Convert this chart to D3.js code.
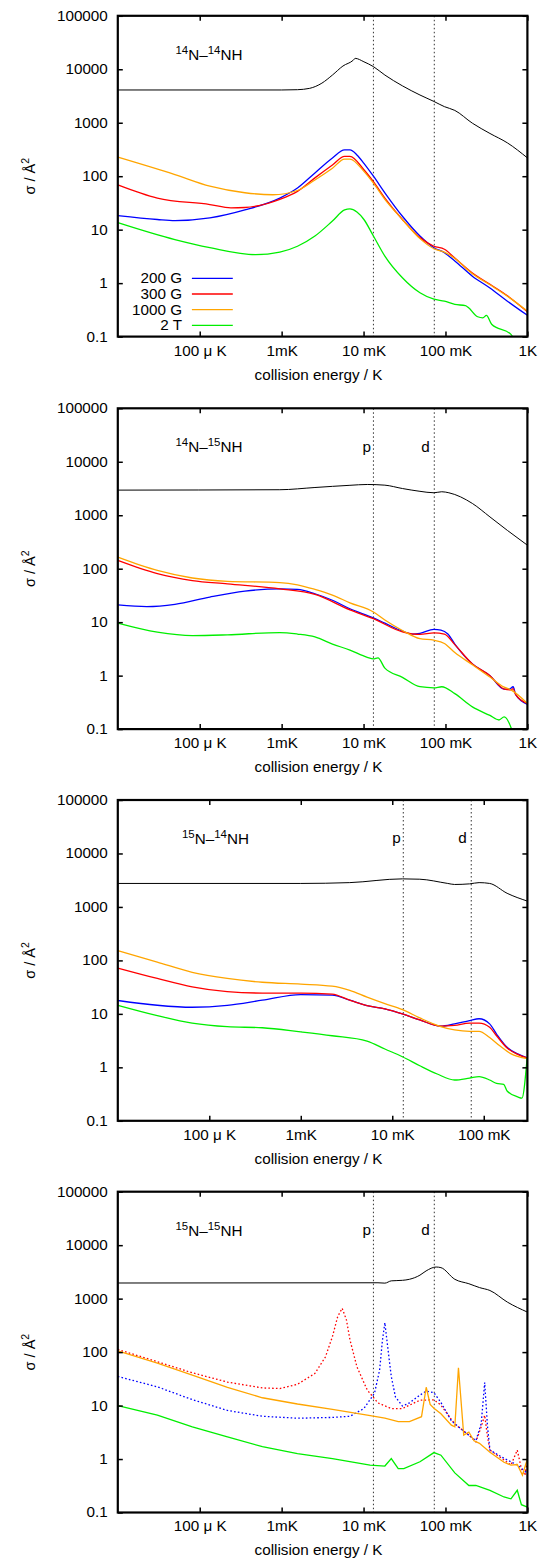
<!DOCTYPE html>
<html><head><meta charset="utf-8">
<script src="https://d3js.org/d3.v7.min.js"></script>
<style>body{margin:0;background:#fff;} svg{display:block;} text{font-family:"Liberation Sans",Arial,Helvetica,sans-serif;}</style>
</head><body>
<script>
// ---------- data: [collision energy (K), cross section (Å^2)] ----------
// Panel 1: 14N-14NH
const p1Black=[[1e-5,4100],[1e-3,4100],[1.56e-3,4150],[2.2e-3,4400],[3.1e-3,5500],[4.17e-3,7800],[5.6e-3,11500],[7.5e-3,14800],[7.9e-3,16000],[1.01e-2,13800],[1.32e-2,11200],[1.82e-2,7800],[2.98e-2,4900],[4.88e-2,3300],[7.23e-2,2500],[9.7e-2,2000],[0.13,1700],[0.213,980],[0.349,630],[0.57,420],[1.0,220]];
const p1Blue=[[1e-5,18.3],[3.04e-5,15.5],[4.98e-5,14.8],[1.33e-4,16.6],[3.56e-4,23.4],[9.5e-4,39],[1.56e-3,60],[2.55e-3,115],[4.17e-3,219],[5.87e-3,310],[6.82e-3,310],[8.3e-3,250],[1.01e-2,174],[1.32e-2,100],[1.82e-2,49],[2.98e-2,17.8],[4.88e-2,7.6],[7.23e-2,4.6],[9.7e-2,3.7],[0.13,2.6],[0.213,1.35],[0.349,0.81],[0.57,0.46],[1.0,0.25]];
const p1Red=[[1e-5,69],[3.04e-5,39],[1.33e-4,29.5],[2.4e-4,25.6],[3.56e-4,26],[9.5e-4,37],[1.56e-3,52],[2.55e-3,93],[4.17e-3,162],[5.87e-3,235],[6.82e-3,235],[1.01e-2,132],[1.32e-2,79],[1.82e-2,39],[2.98e-2,15.5],[4.88e-2,7.1],[7.23e-2,4.9],[9.7e-2,4.3],[0.13,2.95],[0.213,1.55],[0.349,0.95],[0.57,0.58],[1.0,0.29]];
const p1Orange=[[1e-5,227],[4.98e-5,107],[1.33e-4,65],[3.56e-4,49],[7.8e-4,45],[1.56e-3,54],[2.55e-3,85],[4.17e-3,141],[5.87e-3,209],[6.82e-3,209],[1.01e-2,123],[1.32e-2,74],[1.82e-2,37],[2.98e-2,15.5],[4.88e-2,6.8],[7.23e-2,4.4],[9.7e-2,3.8],[0.13,2.9],[0.213,1.5],[0.349,0.93],[0.57,0.57],[1.0,0.30]];
const p1Green=[[1e-5,13.5],[4.98e-5,6.5],[1.33e-4,4.6],[4.78e-4,3.4],[9.5e-4,3.8],[1.56e-3,4.9],[2.55e-3,7.6],[4.17e-3,14.5],[5.87e-3,23.4],[6.82e-3,24.5],[8.3e-3,21.4],[1.01e-2,15.5],[1.32e-2,7.6],[1.82e-2,3.2],[2.98e-2,1.26],[4.88e-2,0.66],[7.23e-2,0.50],[9.7e-2,0.46],[0.13,0.40],[0.175,0.38],[0.19,0.35],[0.247,0.235],[0.286,0.224],[0.316,0.25],[0.366,0.17],[0.63,0.11],[0.70,0.085]];

// Panel 2: 14N-15NH
const p2Black=[[1e-5,2950],[9.5e-4,3000],[2.55e-3,3300],[6.82e-3,3630],[1.11e-2,3760],[1.82e-2,3650],[2.98e-2,3160],[4.88e-2,2800],[7.23e-2,2630],[9.0e-2,2750],[0.11,2630],[0.213,1660],[0.349,930],[0.57,520],[1.0,275]];
const p2Blue=[[1e-5,21],[2.26e-5,19.5],[4.98e-5,21.5],[1.33e-4,29.5],[3.56e-4,38],[9.5e-4,42],[1.56e-3,41],[2.55e-3,34],[4.17e-3,25.7],[6.82e-3,17.8],[1.32e-2,12],[1.82e-2,9.6],[2.98e-2,6.8],[3.98e-2,6.0],[4.88e-2,6.2],[7.23e-2,7.3],[8.8e-2,7.1],[0.107,6.0],[0.13,3.9],[0.213,1.66],[0.349,1.0],[0.52,0.56],[0.60,0.56],[0.67,0.62],[0.72,0.44],[1.0,0.29]];
const p2Red=[[1e-5,143],[3.04e-5,81],[8.13e-5,60],[2.18e-4,52],[9.5e-4,42],[2.55e-3,33],[6.82e-3,17],[1.32e-2,11.6],[2.98e-2,6.6],[4.88e-2,5.9],[7.23e-2,6.3],[9.7e-2,6.0],[0.13,3.8],[0.213,1.66],[0.349,1.0],[0.52,0.56],[0.63,0.54],[0.67,0.57],[0.72,0.44],[1.0,0.30]];
const p2Orange=[[1e-5,165],[3.04e-5,93],[8.13e-5,67],[2.18e-4,58],[9.5e-4,55],[1.56e-3,50],[2.55e-3,41],[4.17e-3,32],[6.82e-3,23],[1.32e-2,15.5],[1.82e-2,11],[2.98e-2,7.0],[4.88e-2,4.9],[7.23e-2,4.6],[9.7e-2,4.0],[0.13,2.7],[0.213,1.6],[0.349,0.94],[0.52,0.61],[0.63,0.54],[1.0,0.30]];
const p2Green=[[1e-5,9.6],[3.04e-5,6.5],[8.13e-5,5.6],[2.18e-4,5.8],[9.5e-4,6.4],[1.56e-3,6.0],[2.55e-3,5.3],[4.17e-3,3.9],[6.82e-3,3.0],[1.11e-2,2.2],[1.32e-2,2.05],[1.5e-2,2.15],[1.82e-2,1.38],[2.98e-2,0.93],[4.88e-2,0.62],[7.23e-2,0.59],[9.0e-2,0.62],[0.13,0.46],[0.213,0.26],[0.349,0.18],[0.45,0.148],[0.52,0.17],[0.63,0.107],[0.67,0.08]];

// Panel 3: 15N-14NH
const p3Black=[[1e-5,2750],[1e-3,2750],[3.43e-3,2850],[1.29e-2,3350],[2.0e-2,3300],[4.04e-2,2750],[4.8e-2,2630],[7.0e-2,2700],[8.9e-2,2850],[0.116,2750],[0.18,1800],[0.298,1290]];
const p3Blue=[[1e-5,17.8],[2.7e-5,14.5],[6.5e-5,13.3],[1.57e-4,14.4],[3.8e-4,18],[1e-3,22.9],[2.2e-3,22.4],[3.43e-3,18],[5.3e-3,14.3],[8.3e-3,12.4],[1.29e-2,10],[2.0e-2,7.7],[3.39e-2,5.9],[4.8e-2,6.5],[7.0e-2,7.5],[8.9e-2,8.1],[0.116,6.5],[0.138,4.2],[0.18,2.37],[0.235,1.78],[0.298,1.5]];
const p3Red=[[1e-5,72],[2.7e-5,46],[6.5e-5,32],[1.57e-4,26],[3.8e-4,24.5],[1e-3,24.5],[2.2e-3,23.5],[3.43e-3,18],[5.3e-3,14.3],[8.3e-3,12.4],[1.29e-2,10],[2.0e-2,7.7],[3.39e-2,5.9],[4.8e-2,6.1],[7.0e-2,6.7],[8.9e-2,6.7],[0.116,5.6],[0.138,3.9],[0.18,2.3],[0.235,1.75],[0.298,1.5]];
const p3Orange=[[1e-5,152],[2.7e-5,93],[6.5e-5,60],[1.57e-4,46],[3.8e-4,39],[1e-3,36],[2.2e-3,33],[3.43e-3,27.5],[5.3e-3,20.5],[8.3e-3,15.5],[1.29e-2,12],[2.0e-2,8.4],[3.39e-2,5.8],[4.8e-2,5.0],[7.0e-2,4.7],[8.9e-2,4.7],[0.116,3.6],[0.151,2.5],[0.197,1.8],[0.298,1.45]];
const p3Green=[[1e-5,14.5],[2.7e-5,9.3],[6.5e-5,6.7],[1.57e-4,5.75],[3.8e-4,5.5],[1e-3,4.6],[2.2e-3,3.9],[5.3e-3,3.1],[8.3e-3,2.2],[1.29e-2,1.58],[2.0e-2,1.07],[3.1e-2,0.75],[4.8e-2,0.58],[7.0e-2,0.63],[8.9e-2,0.67],[0.116,0.58],[0.138,0.5],[0.165,0.48],[0.18,0.36],[0.235,0.28],[0.261,0.265],[0.298,1.5]];

// Panel 4: 15N-15NH
const p4Black=[[1e-5,1960],[1.5e-2,1980],[1.82e-2,1950],[2.18e-2,2150],[2.98e-2,2200],[3.63e-2,2300],[4.88e-2,2750],[5.8e-2,3300],[7.7e-2,3900],[8.8e-2,3800],[0.13,2300],[0.193,1900],[0.26,1610],[0.349,1420],[0.57,860],[1.0,560]];
const p4RedDot=[[1e-5,112],[3.04e-5,66],[8.13e-5,41],[2.18e-4,27.5],[5.82e-4,21.4],[9.5e-4,20.8],[1.56e-3,25],[2.55e-3,40],[3.42e-3,81],[4.17e-3,195],[4.83e-3,460],[5.48e-3,660],[6.18e-3,400],[6.82e-3,170],[8.3e-3,53],[1.11e-2,19.5],[1.5e-2,11.2],[2.18e-2,8.8],[2.98e-2,8.8],[4.88e-2,12.6],[7.23e-2,12.8],[8.8e-2,10.2],[0.13,4.5],[0.193,2.8],[0.235,2.1],[0.273,4.0],[0.301,6.6],[0.326,2.6],[0.349,1.47],[0.518,0.96],[0.63,0.77],[0.752,1.47],[0.845,0.66],[0.933,0.50],[1.0,0.95]];
const p4BlueDot=[[1e-5,35],[3.04e-5,22.4],[8.13e-5,12.9],[2.18e-4,8.1],[5.82e-4,6.3],[1.56e-3,5.8],[4.17e-3,6.0],[6.82e-3,6.3],[1.01e-2,8.8],[1.36e-2,17],[1.57e-2,46],[1.7e-2,166],[1.82e-2,355],[1.97e-2,125],[2.18e-2,35],[2.45e-2,14.5],[2.98e-2,9.8],[3.63e-2,11.2],[4.88e-2,15.7],[5.8e-2,18.6],[7.23e-2,17.4],[8.8e-2,11.4],[0.118,5.2],[0.164,3.4],[0.235,2.2],[0.273,4.6],[0.301,27],[0.326,4.0],[0.349,1.47],[0.518,1.03],[0.76,0.77],[1.0,0.54]];
const p4Orange=[[1e-5,105],[3.04e-5,62],[8.13e-5,37],[2.18e-4,22],[5.82e-4,14],[1.56e-3,10.7],[4.17e-3,8.5],[1.11e-2,6.6],[1.82e-2,5.8],[2.65e-2,5.0],[3.63e-2,5.0],[5.1e-2,6.2],[5.82e-2,22],[6.5e-2,10.5],[7.23e-2,8.9],[8.8e-2,7.0],[0.118,4.3],[0.13,4.0],[0.144,51],[0.167,2.8],[0.193,3.2],[0.223,2.2],[0.26,1.97],[0.349,1.34],[0.518,0.87],[0.63,0.77],[0.752,0.79],[0.87,0.50],[1.0,1.02]];
const p4Green=[[1e-5,10],[3.04e-5,6.6],[8.13e-5,4.0],[2.18e-4,2.6],[5.82e-4,1.7],[1.56e-3,1.26],[4.17e-3,1.02],[1.2e-2,0.77],[1.82e-2,0.74],[2.18e-2,1.02],[2.65e-2,0.66],[3.1e-2,0.66],[4.88e-2,0.89],[7.23e-2,1.32],[8.8e-2,1.18],[0.13,0.55],[0.193,0.32],[0.235,0.32],[0.349,0.26],[0.518,0.195],[0.63,0.18],[0.752,0.26],[0.845,0.14],[1.0,0.126]];

// ---------- tick labels ----------
const xTickValues=[1e-4,1e-3,1e-2,1e-1,1];
const xTickLabels=["100 \u03bc K","1mK","10 mK","100 mK","1K"];
const yTickValues=[0.1,1,10,100,1000,10000,100000];
const yTickLabels=["0.1","1","10","100","1000","10000","100000"];
const legendLabels=["200 G","300 G","1000 G","2 T"];
const markerEnergies=[0.0132,0.073]; // p-wave, d-wave
const markerLabels=["p","d"];
const markerLabelOffset=[2.5,4.5];

const colors={black:"#000000",blue:"#0000ff",red:"#ff0000",orange:"#ffa500",green:"#00ee00"};

const panels=[
 {top:15.8, xmax:1, iso:["14","N\u2013","14","NH"], pd:false, titleX:175.5, legend:true,
  series:[{d:p1Black,c:"black"},{d:p1Blue,c:"blue"},{d:p1Red,c:"red"},{d:p1Orange,c:"orange"},{d:p1Green,c:"green"}]},
 {top:408.3, xmax:1, iso:["14","N\u2013","15","NH"], pd:true, titleX:175.5,
  series:[{d:p2Black,c:"black"},{d:p2Blue,c:"blue"},{d:p2Red,c:"red"},{d:p2Orange,c:"orange"},{d:p2Green,c:"green"}]},
 {top:800, xmax:0.3, iso:["15","N\u2013","14","NH"], pd:true, titleX:182,
  series:[{d:p3Black,c:"black"},{d:p3Blue,c:"blue"},{d:p3Red,c:"red"},{d:p3Orange,c:"orange"},{d:p3Green,c:"green"}]},
 {top:1191.7, xmax:1, iso:["15","N\u2013","15","NH"], pd:true, titleX:175.5, linear:true,
  series:[{d:p4Black,c:"black",smooth:true},{d:p4RedDot,c:"red",dot:true},{d:p4BlueDot,c:"blue",dot:true},{d:p4Orange,c:"orange"},{d:p4Green,c:"green"}]}
];

const W=549,H=1559;
const STRETCH=1.09; // the reference text is slightly wide
const svg=d3.select("body").append("svg").attr("width",W).attr("height",H);
const L=117.8,R=527.4,PH=320.8;

function stretch(sel){
  sel.each(function(){
    const t=d3.select(this);
    const x=+(t.attr("x")||0);
    const prev=t.attr("transform")||"";
    t.attr("transform",`${prev} translate(${x},0) scale(${STRETCH},1) translate(${-x},0)`);
  });
}

panels.forEach((p,i)=>{
  const x=d3.scaleLog().domain([1e-5,p.xmax]).range([L,R]);
  const y=d3.scaleLog().domain([0.1,100000]).range([p.top+PH,p.top]);
  const g=svg.append("g");
  const cid="clip"+i;
  g.append("clipPath").attr("id",cid).append("rect").attr("x",L).attr("y",p.top).attr("width",R-L).attr("height",PH);

  // marker lines (p- and d-wave barrier heights)
  markerEnergies.forEach((e,k)=>{
    g.append("line").attr("x1",x(e)).attr("x2",x(e)).attr("y1",p.top).attr("y2",p.top+PH)
      .attr("stroke","#333").attr("stroke-width",1).attr("stroke-dasharray","1.5,2.5");
    if(p.pd) g.append("text").attr("class","st").attr("x",x(e)-markerLabelOffset[k]).attr("y",p.top+43.5).attr("text-anchor","end")
      .attr("font-size",14).text(markerLabels[k]);
  });

  // series
  const plot=g.append("g").attr("clip-path",`url(#${cid})`);
  p.series.forEach(s=>{
    const curve=(p.linear&&!s.smooth)?d3.curveLinear:d3.curveMonotoneX;
    const line=d3.line().x(d=>x(d[0])).y(d=>y(d[1])).curve(curve);
    plot.append("path").datum(s.d).attr("d",line).attr("fill","none")
      .attr("stroke",colors[s.c]).attr("stroke-width",s.c==="black"?1:1.3)
      .attr("stroke-dasharray",s.dot?"1.6,2.2":null);
  });

  // axes with mirrored inward ticks
  const xv=xTickValues.filter(v=>v<=p.xmax);
  const xb=d3.axisBottom(x).tickValues(xv).tickSize(-5).tickPadding(9)
    .tickFormat(v=>xTickLabels[xTickValues.indexOf(v)]);
  const xt=d3.axisTop(x).tickValues(xv).tickSize(-5).tickFormat("");
  const yl=d3.axisLeft(y).tickValues(yTickValues).tickSize(-5).tickPadding(10)
    .tickFormat(v=>yTickLabels[yTickValues.indexOf(v)]);
  const yr=d3.axisRight(y).tickValues(yTickValues).tickSize(-5).tickFormat("");
  [[xb,`translate(0,${p.top+PH})`],[xt,`translate(0,${p.top})`],[yl,`translate(${L},0)`],[yr,`translate(${R},0)`]].forEach(([ax,tr])=>{
    const a=g.append("g").attr("transform",tr).call(ax);
    a.select(".domain").remove();
    a.selectAll(".tick line").attr("stroke","#000").attr("stroke-width",1.5);
    a.selectAll("text").attr("class","st").attr("font-size",14).attr("fill","#000")
      .attr("font-family","Liberation Sans, Arial, sans-serif");
  });
  g.append("rect").attr("x",L).attr("y",p.top).attr("width",R-L).attr("height",PH)
    .attr("fill","none").attr("stroke","#000").attr("stroke-width",2.2);

  // axis titles
  g.append("text").attr("class","st").attr("x",318.5).attr("y",p.top+PH+43).attr("text-anchor","middle").attr("font-size",14)
    .text("collision energy / K");
  const yt=g.append("text").attr("transform",`translate(35,${p.top+PH/2}) rotate(-90)`).attr("text-anchor","middle").attr("font-size",14.5);
  yt.append("tspan").text("\u03c3 / \u00c5");
  yt.append("tspan").attr("dy",-6).attr("font-size",10.5).text("2");

  // title
  const t=g.append("text").attr("class","st").attr("x",p.titleX).attr("y",p.top+44).attr("font-size",14);
  t.append("tspan").attr("dy",-6).attr("font-size",10.5).text(p.iso[0]);
  t.append("tspan").attr("dy",6).text(p.iso[1]);
  t.append("tspan").attr("dy",-6).attr("font-size",10.5).text(p.iso[2]);
  t.append("tspan").attr("dy",6).text(p.iso[3]);

  // legend
  if(p.legend){
    ["blue","red","orange","green"].forEach((c,k)=>{
      const yy=278.3+k*15.7;
      g.append("text").attr("class","st").attr("x",182).attr("y",yy+5).attr("text-anchor","end").attr("font-size",14).text(legendLabels[k]);
      g.append("line").attr("x1",191.9).attr("x2",232.8).attr("y1",yy).attr("y2",yy).attr("stroke",colors[c]).attr("stroke-width",1.3);
    });
  }
});
stretch(svg.selectAll("text.st"));
</script>
</body></html>
